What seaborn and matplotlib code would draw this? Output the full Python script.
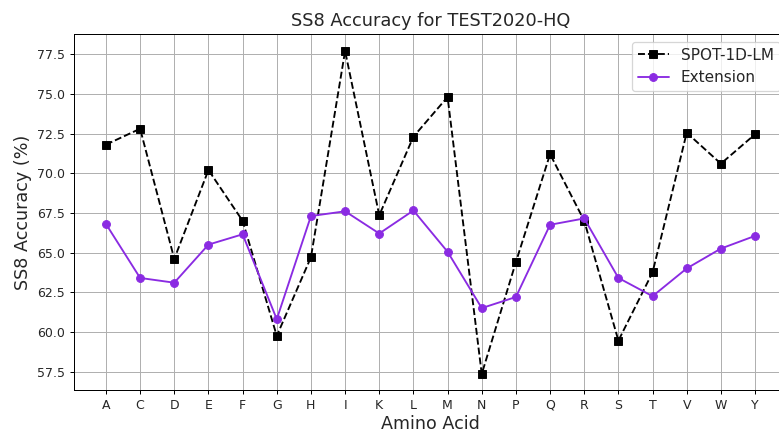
import matplotlib
matplotlib.use("Agg")
import matplotlib.pyplot as plt
import seaborn as sns
import pandas as pd

amino_acids = ["A", "C", "D", "E", "F", "G", "H", "I", "K", "L",
               "M", "N", "P", "Q", "R", "S", "T", "V", "W", "Y"]
spot_1d_lm = [71.8, 72.8, 64.6, 70.2, 67.0, 59.75, 64.7, 77.7, 67.35, 72.3,
              74.8, 57.35, 64.4, 71.2, 67.0, 59.45, 63.75, 72.55, 70.6, 72.45]
extension = [66.8, 63.4, 63.1, 65.5, 66.15, 60.8, 67.3, 67.6, 66.2, 67.65,
             65.05, 61.5, 62.2, 66.75, 67.15, 63.4, 62.25, 64.0, 65.25, 66.05]

df = pd.DataFrame({"Amino Acid": amino_acids,
                   "SPOT-1D-LM": spot_1d_lm,
                   "Extension": extension})

sns.set_style("white")
plt.rcParams["font.family"] = ["DejaVu Sans"]

fig = plt.figure(figsize=(779 / 90, 432 / 90), dpi=90)
ax = fig.add_axes([73.5 / 779, 1 - 390 / 432, (787.5 - 73.5) / 779, (390 - 34) / 432])

sns.lineplot(data=df, x="Amino Acid", y="SPOT-1D-LM", ax=ax, color="black",
             linestyle="--", marker="s", markersize=6.3, markeredgecolor="black",
             label="SPOT-1D-LM", sort=False)
sns.lineplot(data=df, x="Amino Acid", y="Extension", ax=ax, color="#8A2BE2",
             linestyle="-", marker="o", markersize=6.3, markeredgecolor="#8A2BE2",
             label="Extension", sort=False)

ax.set_title("SS8 Accuracy for TEST2020-HQ", fontsize=14.2)
ax.set_xlabel("Amino Acid", fontsize=14, labelpad=2.5)
ax.set_ylabel("SS8 Accuracy (%)", fontsize=14)
ax.tick_params(axis="both", labelsize=10, length=3.5, width=0.8, color="black",
               bottom=True, left=True)
ax.set_yticks([57.5, 60.0, 62.5, 65.0, 67.5, 70.0, 72.5, 75.0, 77.5])
ax.set_ylim(56.34, 78.77)
ax.grid(True, color="#b0b0b0", linewidth=0.8)
for s in ax.spines.values():
    s.set_color("black")
    s.set_linewidth(0.8)
ax.legend(loc="upper right", fontsize=12.2, frameon=True)

fig.savefig("out.png", dpi=90)
